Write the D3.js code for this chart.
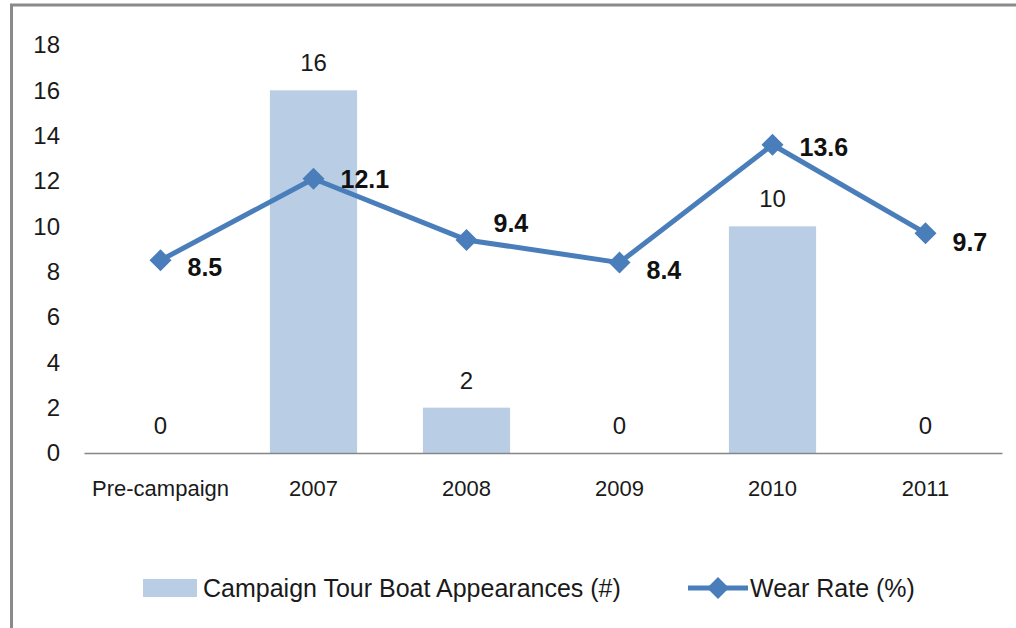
<!DOCTYPE html>
<html>
<head>
<meta charset="utf-8">
<script src="https://cdn.jsdelivr.net/npm/d3@7"></script>
<style>
  body { margin: 0; background: #fff; }
  svg { display: block; font-family: "Liberation Sans", Arial, sans-serif; }
</style>
</head>
<body>
<svg id="chart" width="1016" height="628"></svg>
<script>
// DATA
const categories = ["Pre-campaign", "2007", "2008", "2009", "2010", "2011"];
const boatAppearances = [0, 16, 2, 0, 10, 0];
const wearRate = [8.5, 12.1, 9.4, 8.4, 13.6, 9.7];
const yTicks = [0, 2, 4, 6, 8, 10, 12, 14, 16, 18];
const seriesNames = ["Campaign Tour Boat Appearances (#)", "Wear Rate (%)"];

// label nudges for the line labels (vertical, px)
const lineLabelNudge = [7, 0, -17, 7, 2, 9];

// CONSTANTS
const barColor = "#b9cde5";
const lineColor = "#4a7ebb";
const plotLeft = 84, plotRight = 1002;
const plotTop = 45, plotBottom = 453;

const svg = d3.select("#chart");

// frame (only top and left visible)
svg.append("line").attr("x1", 10).attr("x2", 1016).attr("y1", 5).attr("y2", 5)
    .attr("stroke", "#8a8a8a").attr("stroke-width", 3);
svg.append("line").attr("x1", 11.5).attr("x2", 11.5).attr("y1", 4).attr("y2", 628)
    .attr("stroke", "#8a8a8a").attr("stroke-width", 3);

// scales
const x = d3.scaleBand().domain(categories).range([plotLeft, plotRight]).padding(0);
const y = d3.scaleLinear().domain([0, 18]).range([plotBottom, plotTop]);
const barWidth = x.bandwidth() * 0.57;
const cx = d => x(d) + x.bandwidth() / 2;

// y axis labels
const yAxis = d3.axisLeft(y).tickValues(yTicks).tickSize(0).tickPadding(0);
const yG = svg.append("g").attr("transform", "translate(60,0)").call(yAxis);
yG.select(".domain").remove();
yG.selectAll("text").attr("font-size", 24).attr("fill", "#1a1a1a")
    .attr("font-family", "Liberation Sans, Arial, sans-serif");

// bars
svg.selectAll("rect.bar")
    .data(boatAppearances)
    .enter()
    .append("rect")
    .attr("class", "bar")
    .attr("x", (d, i) => cx(categories[i]) - barWidth / 2)
    .attr("y", d => y(d))
    .attr("width", barWidth)
    .attr("height", d => y(0) - y(d))
    .attr("fill", barColor);

// x axis
const xAxis = d3.axisBottom(x).tickSize(0).tickPadding(0);
const xG = svg.append("g").attr("transform", `translate(0,${plotBottom})`).call(xAxis);
xG.select(".domain").attr("stroke", "#868686").attr("stroke-width", 1.5);
xG.selectAll("text").attr("font-size", 22).attr("fill", "#1a1a1a")
    .attr("dy", null).attr("y", 43)
    .attr("font-family", "Liberation Sans, Arial, sans-serif");

// bar labels
svg.selectAll("text.barLabel")
    .data(boatAppearances)
    .enter()
    .append("text")
    .attr("class", "barLabel")
    .attr("x", (d, i) => cx(categories[i]))
    .attr("y", d => y(d) - 19)
    .attr("text-anchor", "middle")
    .attr("font-size", 24)
    .attr("fill", "#1a1a1a")
    .text(d => d);

// line
const line = d3.line()
    .x((d, i) => cx(categories[i]))
    .y(d => y(d));

svg.append("path")
    .datum(wearRate)
    .attr("d", line)
    .attr("fill", "none")
    .attr("stroke", lineColor)
    .attr("stroke-width", 5)
    .attr("stroke-linejoin", "round");

const diamond = (s) => `M0,${-s}L${s},0L0,${s}L${-s},0Z`;

svg.selectAll("path.marker")
    .data(wearRate)
    .enter()
    .append("path")
    .attr("class", "marker")
    .attr("d", diamond(11))
    .attr("transform", (d, i) => `translate(${cx(categories[i])},${y(d)})`)
    .attr("fill", lineColor);

// line labels
svg.selectAll("text.lineLabel")
    .data(wearRate)
    .enter()
    .append("text")
    .attr("class", "lineLabel")
    .attr("x", (d, i) => cx(categories[i]) + 27)
    .attr("y", (d, i) => y(d) + lineLabelNudge[i])
    .attr("dominant-baseline", "central")
    .attr("font-size", 25)
    .attr("font-weight", "bold")
    .attr("fill", "#111")
    .text(d => d.toFixed(1));

// legend
const legendY = 588;
svg.append("rect")
    .attr("x", 143).attr("y", legendY - 9)
    .attr("width", 54).attr("height", 18)
    .attr("fill", barColor);
svg.append("text")
    .attr("x", 203).attr("y", legendY)
    .attr("dominant-baseline", "central")
    .attr("font-size", 25).attr("fill", "#1a1a1a")
    .text(seriesNames[0]);

svg.append("line")
    .attr("x1", 688).attr("x2", 748)
    .attr("y1", legendY).attr("y2", legendY)
    .attr("stroke", lineColor).attr("stroke-width", 5);
svg.append("path")
    .attr("d", diamond(11))
    .attr("transform", `translate(718,${legendY})`)
    .attr("fill", lineColor);
svg.append("text")
    .attr("x", 750).attr("y", legendY)
    .attr("dominant-baseline", "central")
    .attr("font-size", 25).attr("fill", "#1a1a1a")
    .text(seriesNames[1]);
</script>
</body>
</html>
